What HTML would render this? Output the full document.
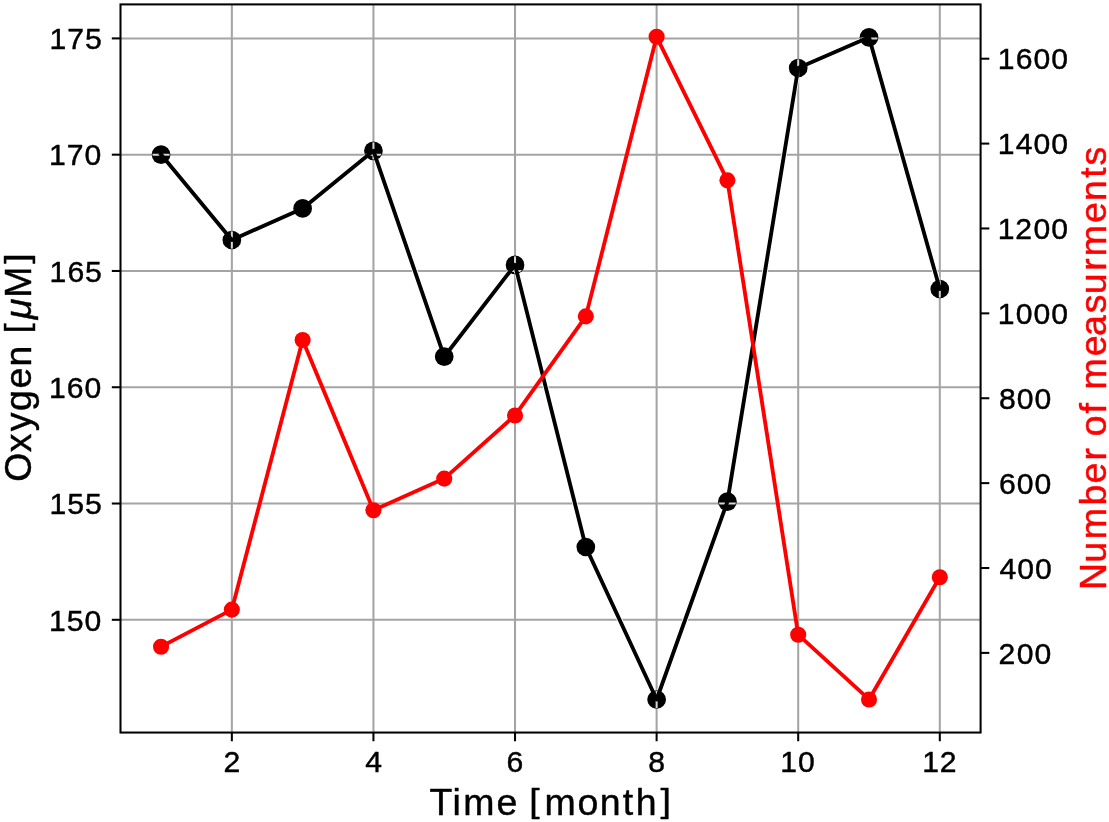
<!DOCTYPE html>
<html><head><meta charset="utf-8"><title>Oxygen and number of measurements per month</title>
<style>html,body{margin:0;padding:0;background:#fff;overflow:hidden;}svg{display:block;will-change:transform;} text{font-family:"Liberation Sans", sans-serif;font-kerning:none;stroke-width:0.45px;stroke-linejoin:round;}</style>
</head><body>
<svg width="1109" height="822" viewBox="0 0 1109 822">
<rect width="1109" height="822" fill="#fff"/>
<defs>
<clipPath id="ax"><rect x="120.5" y="4.4" width="860.1" height="728.15"/></clipPath>
<clipPath id="mk">
<circle cx="161.05" cy="154.6" r="8.65"/>
<circle cx="231.85" cy="240" r="8.65"/>
<circle cx="302.64" cy="208.4" r="8.65"/>
<circle cx="373.44" cy="150.8" r="8.65"/>
<circle cx="444.23" cy="356.7" r="8.65"/>
<circle cx="515.03" cy="264.9" r="8.65"/>
<circle cx="585.82" cy="547" r="8.65"/>
<circle cx="656.62" cy="699.5" r="8.65"/>
<circle cx="727.41" cy="501.6" r="8.65"/>
<circle cx="798.2" cy="68" r="8.65"/>
<circle cx="869" cy="37.35" r="8.65"/>
<circle cx="939.8" cy="289" r="8.65"/>
</clipPath>
</defs>
<g clip-path="url(#ax)">
<g stroke="#a4a4a4" stroke-width="2.04" fill="none">
<line x1="231.85" y1="4.4" x2="231.85" y2="732.55"/>
<line x1="373.44" y1="4.4" x2="373.44" y2="732.55"/>
<line x1="515.03" y1="4.4" x2="515.03" y2="732.55"/>
<line x1="656.62" y1="4.4" x2="656.62" y2="732.55"/>
<line x1="798.2" y1="4.4" x2="798.2" y2="732.55"/>
<line x1="939.8" y1="4.4" x2="939.8" y2="732.55"/>
<line x1="120.5" y1="619.8" x2="980.6" y2="619.8"/>
<line x1="120.5" y1="503.52" x2="980.6" y2="503.52"/>
<line x1="120.5" y1="387.24" x2="980.6" y2="387.24"/>
<line x1="120.5" y1="270.96" x2="980.6" y2="270.96"/>
<line x1="120.5" y1="154.68" x2="980.6" y2="154.68"/>
<line x1="120.5" y1="38.4" x2="980.6" y2="38.4"/>
</g>
<polyline points="161.05,154.6 231.85,240 302.64,208.4 373.44,150.8 444.23,356.7 515.03,264.9 585.82,547 656.62,699.5 727.41,501.6 798.2,68 869,37.35 939.8,289" fill="none" stroke="#fff" stroke-width="5.45" stroke-linejoin="round"/>
<g fill="#000">
<circle cx="161.05" cy="154.6" r="9.35"/>
<circle cx="231.85" cy="240" r="9.35"/>
<circle cx="302.64" cy="208.4" r="9.35"/>
<circle cx="373.44" cy="150.8" r="9.35"/>
<circle cx="444.23" cy="356.7" r="9.35"/>
<circle cx="515.03" cy="264.9" r="9.35"/>
<circle cx="585.82" cy="547" r="9.35"/>
<circle cx="656.62" cy="699.5" r="9.35"/>
<circle cx="727.41" cy="501.6" r="9.35"/>
<circle cx="798.2" cy="68" r="9.35"/>
<circle cx="869" cy="37.35" r="9.35"/>
<circle cx="939.8" cy="289" r="9.35"/>
</g>
<g stroke="#d6d6d6" stroke-width="2.04" fill="none" clip-path="url(#mk)">
<line x1="231.85" y1="4.4" x2="231.85" y2="732.55"/>
<line x1="373.44" y1="4.4" x2="373.44" y2="732.55"/>
<line x1="515.03" y1="4.4" x2="515.03" y2="732.55"/>
<line x1="656.62" y1="4.4" x2="656.62" y2="732.55"/>
<line x1="798.2" y1="4.4" x2="798.2" y2="732.55"/>
<line x1="939.8" y1="4.4" x2="939.8" y2="732.55"/>
<line x1="120.5" y1="619.8" x2="980.6" y2="619.8"/>
<line x1="120.5" y1="503.52" x2="980.6" y2="503.52"/>
<line x1="120.5" y1="387.24" x2="980.6" y2="387.24"/>
<line x1="120.5" y1="270.96" x2="980.6" y2="270.96"/>
<line x1="120.5" y1="154.68" x2="980.6" y2="154.68"/>
<line x1="120.5" y1="38.4" x2="980.6" y2="38.4"/>
</g>
<polyline points="161.05,154.6 231.85,240 302.64,208.4 373.44,150.8 444.23,356.7 515.03,264.9 585.82,547 656.62,699.5 727.41,501.6 798.2,68 869,37.35 939.8,289" fill="none" stroke="#000" stroke-width="3.85" stroke-linejoin="round" stroke-linecap="square"/>
<polyline points="161.05,646.7 231.85,609.6 302.64,340 373.44,510.2 444.23,478.6 515.03,415.45 585.82,316.35 656.62,36.8 727.41,180.35 798.2,634.7 869,699.45 939.8,577.2" fill="none" stroke="#ff0000" stroke-width="3.85" stroke-linejoin="round" stroke-linecap="square"/>
<g fill="#ff0000">
<circle cx="161.05" cy="646.7" r="8.05"/>
<circle cx="231.85" cy="609.6" r="8.05"/>
<circle cx="302.64" cy="340" r="8.05"/>
<circle cx="373.44" cy="510.2" r="8.05"/>
<circle cx="444.23" cy="478.6" r="8.05"/>
<circle cx="515.03" cy="415.45" r="8.05"/>
<circle cx="585.82" cy="316.35" r="8.05"/>
<circle cx="656.62" cy="36.8" r="8.05"/>
<circle cx="727.41" cy="180.35" r="8.05"/>
<circle cx="798.2" cy="634.7" r="8.05"/>
<circle cx="869" cy="699.45" r="8.05"/>
<circle cx="939.8" cy="577.2" r="8.05"/>
</g>
</g>
<rect x="120.5" y="4.4" width="860.1" height="728.15" fill="none" stroke="#000" stroke-width="2.04" stroke-linejoin="miter"/>
<g stroke="#000" stroke-width="2.04" stroke-linecap="butt">
<line x1="231.85" y1="732.55" x2="231.85" y2="741.25"/>
<line x1="373.44" y1="732.55" x2="373.44" y2="741.25"/>
<line x1="515.03" y1="732.55" x2="515.03" y2="741.25"/>
<line x1="656.62" y1="732.55" x2="656.62" y2="741.25"/>
<line x1="798.2" y1="732.55" x2="798.2" y2="741.25"/>
<line x1="939.8" y1="732.55" x2="939.8" y2="741.25"/>
<line x1="120.5" y1="619.8" x2="111.8" y2="619.8"/>
<line x1="120.5" y1="503.52" x2="111.8" y2="503.52"/>
<line x1="120.5" y1="387.24" x2="111.8" y2="387.24"/>
<line x1="120.5" y1="270.96" x2="111.8" y2="270.96"/>
<line x1="120.5" y1="154.68" x2="111.8" y2="154.68"/>
<line x1="120.5" y1="38.4" x2="111.8" y2="38.4"/>
<line x1="980.6" y1="652.9" x2="989.3" y2="652.9"/>
<line x1="980.6" y1="568.02" x2="989.3" y2="568.02"/>
<line x1="980.6" y1="483.13" x2="989.3" y2="483.13"/>
<line x1="980.6" y1="398.24" x2="989.3" y2="398.24"/>
<line x1="980.6" y1="313.36" x2="989.3" y2="313.36"/>
<line x1="980.6" y1="228.47" x2="989.3" y2="228.47"/>
<line x1="980.6" y1="143.59" x2="989.3" y2="143.59"/>
<line x1="980.6" y1="58.7" x2="989.3" y2="58.7"/>
</g>
<g>
<text x="223.46" y="772.3" font-size="30.15" fill="#000" stroke="#000">2</text>
<text x="365.15" y="772.3" font-size="30.15" fill="#000" stroke="#000">4</text>
<text x="506.54" y="772.3" font-size="30.15" fill="#000" stroke="#000">6</text>
<text x="648.23" y="772.3" font-size="30.15" fill="#000" stroke="#000">8</text>
<text x="780.17 798.08" y="772.3" font-size="30.15" fill="#000" stroke="#000">10</text>
<text x="922.23 939.77" y="772.3" font-size="30.15" fill="#000" stroke="#000">12</text>
<text x="48.92 66.73 84.59" y="630.55" font-size="30.15" fill="#000" stroke="#000">150</text>
<text x="49.51 67.31 85.06" y="514.27" font-size="30.15" fill="#000" stroke="#000">155</text>
<text x="48.92 66.83 84.59" y="397.99" font-size="30.15" fill="#000" stroke="#000">160</text>
<text x="49.51 67.42 85.06" y="281.71" font-size="30.15" fill="#000" stroke="#000">165</text>
<text x="48.92 66.78 84.59" y="165.43" font-size="30.15" fill="#000" stroke="#000">170</text>
<text x="49.51 67.36 85.06" y="49.15" font-size="30.15" fill="#000" stroke="#000">175</text>
<text x="998.57 1016.69 1034.44" y="663.65" font-size="30.15" fill="#000" stroke="#000">200</text>
<text x="999.62 1017.37 1035.12" y="578.77" font-size="30.15" fill="#000" stroke="#000">400</text>
<text x="999.03 1016.79 1034.54" y="493.88" font-size="30.15" fill="#000" stroke="#000">600</text>
<text x="999.09 1016.84 1034.59" y="408.99" font-size="30.15" fill="#000" stroke="#000">800</text>
<text x="997.76 1015.67 1033.42 1051.17" y="324.11" font-size="30.15" fill="#000" stroke="#000">1000</text>
<text x="997.76 1015.3 1033.42 1051.17" y="239.22" font-size="30.15" fill="#000" stroke="#000">1200</text>
<text x="997.76 1015.67 1033.42 1051.17" y="154.34" font-size="30.15" fill="#000" stroke="#000">1400</text>
<text x="997.76 1015.67 1033.42 1051.17" y="69.45" font-size="30.15" fill="#000" stroke="#000">1600</text>
</g>
<g transform="translate(0,814.7)" font-size="37.46" fill="#000" stroke="#000">
<text x="429.46 452.46 463.22 496.47 517.31" y="0">Time </text>
<text transform="translate(0,-2.36) scale(1,0.9027)" x="529.24" y="0">[</text>
<text x="544.43 577.56 599.65 622.82 635.86" y="0">month</text>
<text transform="translate(0,-2.36) scale(1,0.9027)" x="660.53" y="0">]</text>
</g>
<g transform="translate(30.8,0) rotate(-90)" font-size="37.46" fill="#000" stroke="#000">
<text x="-481.85 -452.36 -431.37 -410.94 -388.57 -366.49 -345.65" y="0">Oxygen </text>
<text transform="translate(0,-2.36) scale(1,0.9027)" x="-333.4" y="0">[</text>
<text x="-319.25 -297.77" y="0"><tspan font-style="italic">μ</tspan>M</text>
<text transform="translate(0,-2.36) scale(1,0.9027)" x="-263.85" y="0">]</text>
</g>
<g transform="translate(1105.9,0) rotate(-90)" font-size="37.46" fill="#ff0000" stroke="#ff0000">
<text x="-590.09 -562.63 -539.22 -505.48 -483.53 -460.61 -448.13 -436.13 -413.44 -403.04 -389.52 -356.27 -335.97 -313.29 -294.26 -270.86 -256.32 -223.06 -200.98 -177.81 -165.49" y="0">Number of measurments</text>
</g>
</svg>
</body></html>
